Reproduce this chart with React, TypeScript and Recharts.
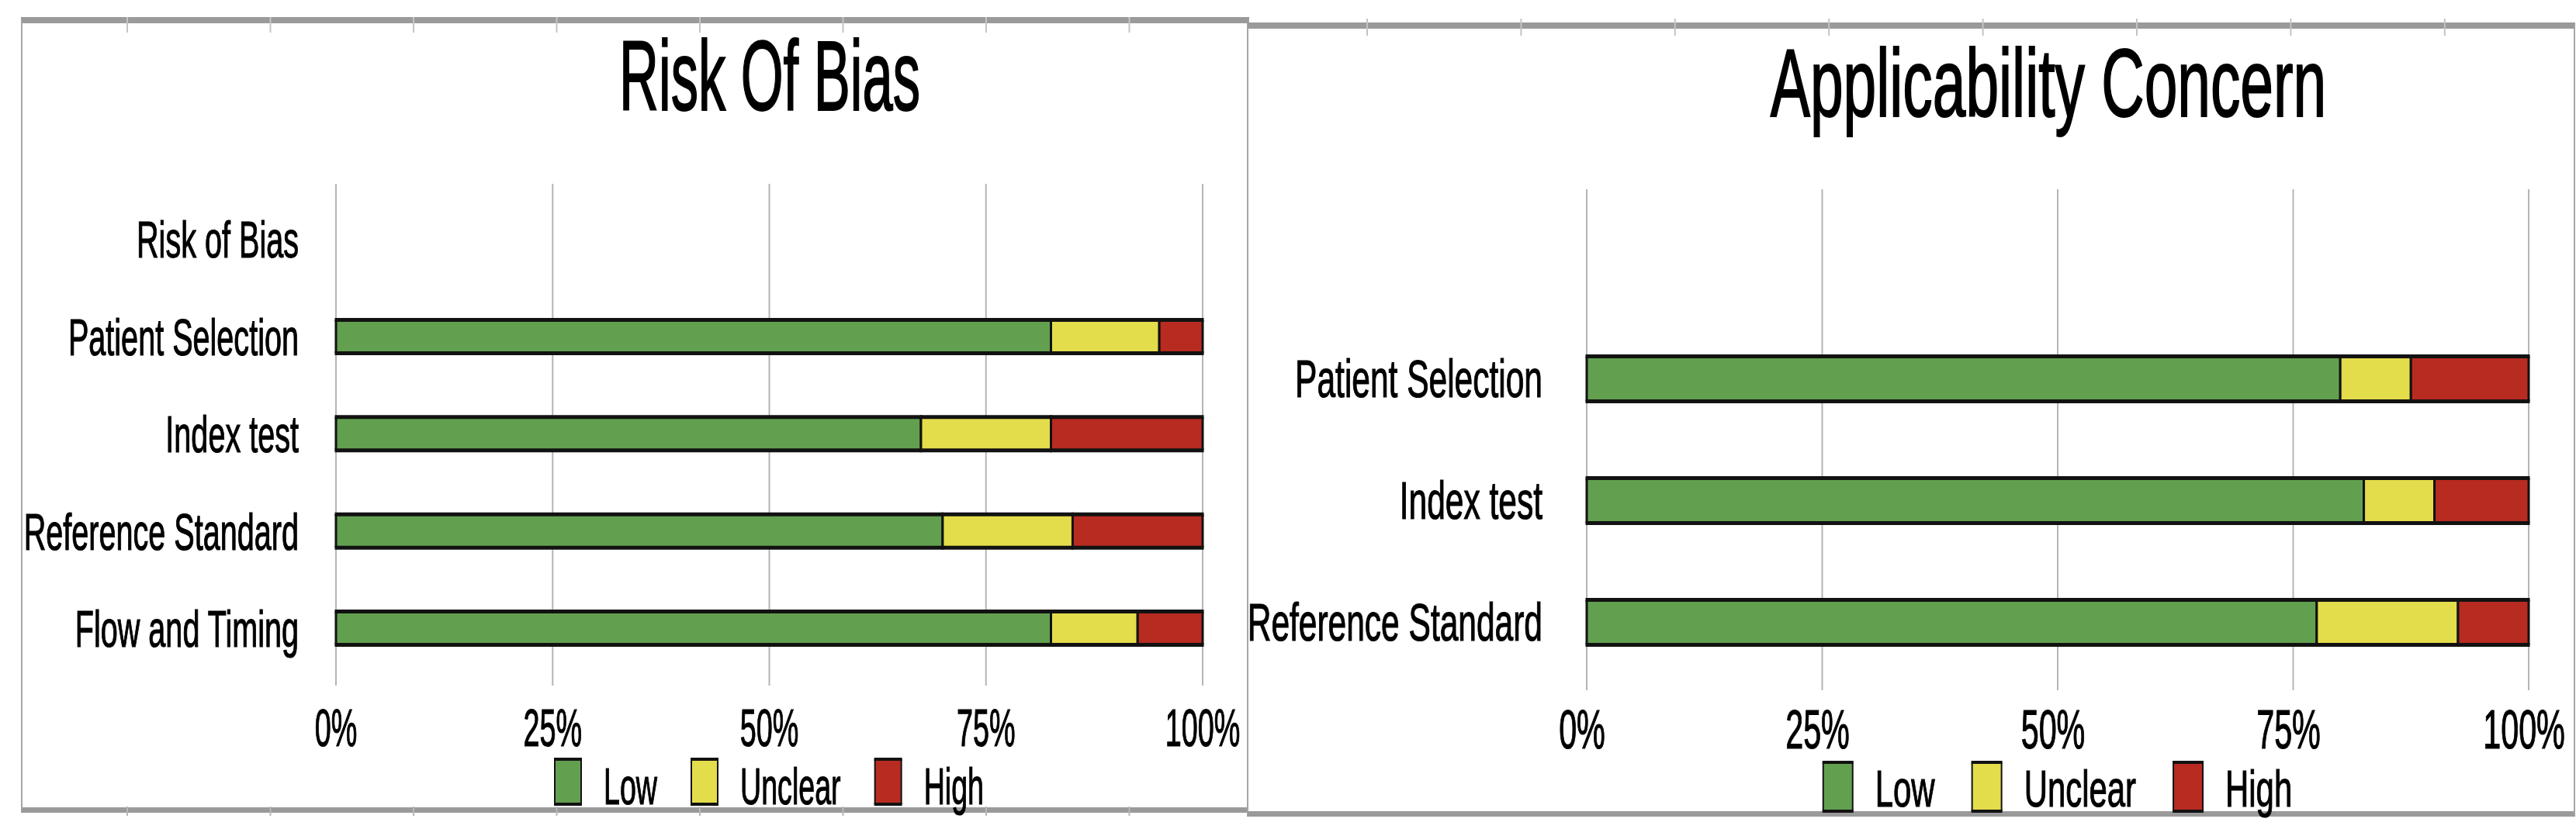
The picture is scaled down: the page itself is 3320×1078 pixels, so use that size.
import React from "react";
import { BarChart, Bar, XAxis, YAxis, CartesianGrid, Legend } from "recharts";

// ---------------- data ----------------
const riskTitle = "Risk Of Bias";
const riskCategories = ["Risk of Bias", "Patient Selection", "Index test", "Reference Standard", "Flow and Timing"];
const riskLow = [null, 82.5, 67.5, 70, 82.5];
const riskUnclear = [null, 12.5, 15, 15, 10];
const riskHigh = [null, 5, 17.5, 15, 7.5];

const applicabilityTitle = "Applicability Concern";
const applicabilityCategories = ["", "Patient Selection", "Index test", "Reference Standard"];
const applicabilityLow = [null, 80, 82.5, 77.5];
const applicabilityUnclear = [null, 7.5, 7.5, 15];
const applicabilityHigh = [null, 12.5, 10, 7.5];

const seriesNames = ["Low", "Unclear", "High"];
const seriesColors = ["#62a04f", "#e4dd4b", "#b82b21"];
const xTicks = [0, 25, 50, 75, 100];

// ---------------- helpers ----------------
const FONT = '"Liberation Sans", Arial, Helvetica, sans-serif';
const EDGE = "#121212";

function buildRows(categories: string[], low: any[], unclear: any[], high: any[]) {
  return categories.map((name, i) => ({
    name,
    [seriesNames[0]]: low[i],
    [seriesNames[1]]: unclear[i],
    [seriesNames[2]]: high[i],
  }));
}

let ctx: any = null;
function textWidth(text: string, size: number): number {
  if (!ctx && typeof document !== "undefined") {
    ctx = document.createElement("canvas").getContext("2d");
  }
  if (!ctx) return text.length * size * 0.55;
  ctx.font = `${size}px "Liberation Sans", Arial, sans-serif`;
  return ctx.measureText(text).width;
}

// Horizontally condensed text (scaled around its anchor point)
function CondensedText({ x, y, text, size, ratio, anchor, weight }: any) {
  if (!text) return null;
  return (
    <g transform={`translate(${x},${y})`}>
      <text
        transform={`scale(${ratio},1)`}
        fontFamily={FONT}
        fontSize={size}
        fill="#000"
        stroke="#000"
        strokeWidth={weight || 0}
        textAnchor={anchor || "start"}
      >
        {text}
      </text>
    </g>
  );
}

const leftCfg = {
  left: 0,
  width: 1605,
  height: 1078,
  plotLeft: 433,
  plotRight: 1550,
  plotTop: 237,
  plotBottom: 884,
  bandPadTop: 9,
  bandPadBottom: 11,
  barSize: 43,
  hStroke: 5,
  vStroke: 3,
  labelFont: 66,
  labelRatio: 0.6,
  labelGap: 48,
  tickFont: 68,
  tickRatio: 0.555,
  tickBaseline: 78,
  tickDx: 0,
  legendFont: 66,
  legendRatio: 0.57,
  legendTop: 979,
  legendBoxW: 34,
  legendBoxH: 58,
  legendTextGap: 29,
  legendItemGap: 44,
  legendBaseline: 1037,
  titleFont: 128,
  titleRatio: 0.551,
  titleX: 992,
  titleBaseline: 142,
};

const rightCfg = {
  left: 1600,
  width: 1715,
  height: 1078,
  plotLeft: 2045,
  plotRight: 3259,
  plotTop: 244,
  plotBottom: 890,
  bandPadTop: 8.5,
  bandPadBottom: 9.5,
  barSize: 58,
  hStroke: 5,
  vStroke: 3,
  labelFont: 68,
  labelRatio: 0.625,
  labelGap: 57,
  tickFont: 70,
  tickRatio: 0.59,
  tickBaseline: 75,
  tickDx: -6,
  legendFont: 66,
  legendRatio: 0.635,
  legendTop: 983,
  legendBoxW: 38,
  legendBoxH: 63,
  legendTextGap: 29,
  legendItemGap: 48,
  legendBaseline: 1040,
  titleFont: 125,
  titleRatio: 0.614,
  titleX: 2640,
  titleBaseline: 150,
};

function Segment(props: any) {
  const { x, y, width, height, fill, cfg } = props;
  if (!(width > 0) || !(height > 0)) return null;
  const h = cfg.hStroke;
  const v = cfg.vStroke;
  return (
    <g>
      <rect x={x} y={y} width={width} height={height} fill={fill} />
      <line x1={x} y1={y} x2={x} y2={y + height} stroke={EDGE} strokeWidth={v} />
      <line x1={x + width} y1={y} x2={x + width} y2={y + height} stroke={EDGE} strokeWidth={v} />
      <line x1={x - v / 2} y1={y} x2={x + width + v / 2} y2={y} stroke={EDGE} strokeWidth={h} />
      <line x1={x - v / 2} y1={y + height} x2={x + width + v / 2} y2={y + height} stroke={EDGE} strokeWidth={h} />
    </g>
  );
}

function XTick(props: any) {
  const { x, y, payload, cfg } = props;
  return (
    <CondensedText
      x={x + cfg.tickDx}
      y={y}
      text={`${payload.value}%`}
      size={cfg.tickFont}
      ratio={cfg.tickRatio}
      anchor="middle"
      weight={1.2}
    />
  );
}

function YTick(props: any) {
  const { x, y, payload, cfg } = props;
  return (
    <CondensedText
      x={x}
      y={y + cfg.labelFont * 0.358}
      text={String(payload.value)}
      size={cfg.labelFont}
      ratio={cfg.labelRatio}
      anchor="end"
      weight={1.2}
    />
  );
}

const LEGEND_WRAP_TOP = 950;
const LEGEND_WRAP_H = 110;

function LegendContent(props: any) {
  const { payload, cfg } = props;
  const ordered = [...(payload || [])].sort(
    (a: any, b: any) => seriesNames.indexOf(String(a.value)) - seriesNames.indexOf(String(b.value))
  );
  const items = ordered.map((e: any) => {
    const name = String(e.value);
    return { name, color: e.color, w: textWidth(name, cfg.legendFont) * cfg.legendRatio };
  });
  const total = items.reduce(
    (s: number, it: any, i: number) =>
      s + cfg.legendBoxW + cfg.legendTextGap + it.w + (i < items.length - 1 ? cfg.legendItemGap : 0),
    0
  );
  const center = (cfg.plotLeft + cfg.plotRight) / 2 - cfg.left;
  let cx = center - total / 2;
  const boxTop = cfg.legendTop - LEGEND_WRAP_TOP;
  const base = cfg.legendBaseline - LEGEND_WRAP_TOP;
  const els = items.map((it: any) => {
    const bx = cx;
    const tx = bx + cfg.legendBoxW + cfg.legendTextGap;
    cx = tx + it.w + cfg.legendItemGap;
    const bw = cfg.legendBoxW;
    const bh = cfg.legendBoxH;
    return (
      <g key={it.name}>
        <rect x={bx} y={boxTop} width={bw} height={bh} fill={it.color} />
        <line x1={bx} y1={boxTop} x2={bx} y2={boxTop + bh} stroke={EDGE} strokeWidth={2} />
        <line x1={bx + bw} y1={boxTop} x2={bx + bw} y2={boxTop + bh} stroke={EDGE} strokeWidth={2} />
        <line x1={bx - 1} y1={boxTop} x2={bx + bw + 1} y2={boxTop} stroke={EDGE} strokeWidth={4} />
        <line x1={bx - 1} y1={boxTop + bh} x2={bx + bw + 1} y2={boxTop + bh} stroke={EDGE} strokeWidth={4} />
        <CondensedText x={tx} y={base} text={it.name} size={cfg.legendFont} ratio={cfg.legendRatio} weight={1.2} />
      </g>
    );
  });
  return (
    <svg width={cfg.width} height={LEGEND_WRAP_H} style={{ display: "block", overflow: "visible" }}>
      {els}
    </svg>
  );
}

function Panel({ cfg, rows }: any) {
  const pl = cfg.plotLeft - cfg.left;
  const pr = cfg.plotRight - cfg.left;
  const yAxisWidth = pl - 10;
  const xAxisHeight = 100;
  const margin = {
    top: cfg.plotTop,
    left: pl - yAxisWidth,
    right: cfg.width - pr,
    bottom: cfg.height - cfg.plotBottom - xAxisHeight,
  };
  return (
    <div style={{ position: "absolute", left: cfg.left, top: 0, width: cfg.width, height: cfg.height }}>
      <BarChart
        width={cfg.width}
        height={cfg.height}
        data={rows}
        layout="vertical"
        margin={margin}
        barSize={cfg.barSize}
      >
        <CartesianGrid horizontal={false} vertical={true} stroke="#b5b5b5" strokeWidth={2} />
        <XAxis
          type="number"
          domain={[0, 100]}
          ticks={xTicks}
          interval={0}
          height={xAxisHeight}
          axisLine={false}
          tickLine={false}
          tickSize={0}
          tickMargin={cfg.tickBaseline}
          tick={(p: any) => <XTick {...p} cfg={cfg} />}
        />
        <YAxis
          type="category"
          dataKey="name"
          width={yAxisWidth}
          interval={0}
          axisLine={false}
          tickLine={false}
          tickSize={0}
          tickMargin={cfg.labelGap}
          padding={{ top: cfg.bandPadTop, bottom: cfg.bandPadBottom }}
          tick={(p: any) => <YTick {...p} cfg={cfg} />}
        />
        <Legend
          layout="horizontal"
          verticalAlign="middle"
          align="center"
          wrapperStyle={{ left: 0, top: LEGEND_WRAP_TOP, width: cfg.width, height: LEGEND_WRAP_H }}
          content={(p: any) => <LegendContent {...p} cfg={cfg} />}
        />
        {seriesNames.map((n, i) => (
          <Bar
            key={n}
            dataKey={n}
            name={n}
            stackId="stack"
            fill={seriesColors[i]}
            isAnimationActive={false}
            shape={(p: any) => <Segment {...p} fill={seriesColors[i]} cfg={cfg} />}
          />
        ))}
      </BarChart>
    </div>
  );
}

function Frame({ left, top, width, height }: any) {
  return (
    <div
      style={{
        position: "absolute",
        left,
        top,
        width,
        height,
        boxSizing: "border-box",
        borderTop: "8px solid #9a9a9a",
        borderBottom: "7px solid #9a9a9a",
        borderLeft: "2px solid #a6a6a6",
        borderRight: "2px solid #a6a6a6",
        background: "#fff",
      }}
    />
  );
}

function Decorations() {
  const leftTicks = Array.from({ length: 8 }, (_, k) => 164 + 184.5 * k);
  const rightTicks = Array.from({ length: 8 }, (_, k) => 1762 + 198.4 * k);
  return (
    <svg
      width={3320}
      height={1078}
      style={{ position: "absolute", left: 0, top: 0, pointerEvents: "none" }}
    >
      {leftTicks.map((x) => (
        <line key={`lt${x}`} x1={x} y1={22} x2={x} y2={42} stroke="#c4c4c4" strokeWidth={2} />
      ))}
      {leftTicks.map((x) => (
        <line key={`lb${x}`} x1={x} y1={1040} x2={x} y2={1052} stroke="#b8b8b8" strokeWidth={2} />
      ))}
      {rightTicks.map((x) => (
        <line key={`rt${x}`} x1={x} y1={24} x2={x} y2={46} stroke="#c4c4c4" strokeWidth={2} />
      ))}
      {[leftCfg, rightCfg].map((cfg, i) => (
        <CondensedText
          key={i}
          x={cfg.titleX}
          y={cfg.titleBaseline}
          text={i === 0 ? riskTitle : applicabilityTitle}
          size={cfg.titleFont}
          ratio={cfg.titleRatio}
          anchor="middle"
          weight={2}
        />
      ))}
    </svg>
  );
}

export default function App() {
  const riskRows = buildRows(riskCategories, riskLow, riskUnclear, riskHigh);
  const applicabilityRows = buildRows(
    applicabilityCategories,
    applicabilityLow,
    applicabilityUnclear,
    applicabilityHigh
  );
  return (
    <div
      style={{
        position: "absolute",
        left: 0,
        top: 0,
        width: 3320,
        height: 1078,
        background: "#fff",
        overflow: "hidden",
      }}
    >
      <Frame left={27} top={22} width={1583} height={1026} />
      <Frame left={1607} top={29} width={1712} height={1024} />
      <Decorations />
      <Panel cfg={leftCfg} rows={riskRows} />
      <Panel cfg={rightCfg} rows={applicabilityRows} />
    </div>
  );
}
